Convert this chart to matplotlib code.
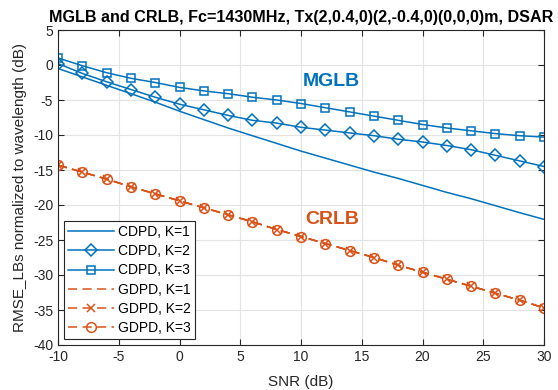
import matplotlib
matplotlib.use("Agg")
import matplotlib.pyplot as plt

plt.rcParams["font.family"] = ["Liberation Sans", "DejaVu Sans"]
plt.rcParams["axes.unicode_minus"] = False

# ── data ────────────────────────────────────────────────────────────────────
snr = [-10, -8, -6, -4, -2, 0, 2, 4, 6, 8, 10, 12, 14, 16, 18, 20, 22, 24, 26, 28, 30]

cdpd_k1 = [-0.5, -1.7, -2.9, -4.1, -5.3, -6.6, -7.8, -9.0, -10.1, -11.2, -12.3,
           -13.3, -14.3, -15.3, -16.2, -17.2, -18.2, -19.1, -20.1, -21.1, -22.05]
cdpd_k2 = [0.2, -1.2, -2.4, -3.5, -4.6, -5.6, -6.4, -7.2, -7.9, -8.3, -8.9,
           -9.3, -9.7, -10.1, -10.6, -11.0, -11.5, -12.1, -12.9, -13.7, -14.5]
cdpd_k3 = [1.0, -0.1, -1.1, -1.9, -2.5, -3.2, -3.7, -4.1, -4.6, -5.0, -5.5,
           -6.1, -6.7, -7.3, -7.9, -8.5, -9.0, -9.4, -9.8, -10.1, -10.3]

gdpd_k1 = [-14.3, -15.3, -16.3, -17.4, -18.4, -19.4, -20.4, -21.4, -22.4, -23.5, -24.5,
           -25.5, -26.5, -27.5, -28.6, -29.6, -30.6, -31.6, -32.6, -33.6, -34.7]
gdpd_k2 = gdpd_k1
gdpd_k3 = gdpd_k1

BLUE = "#0072BD"
ORANGE = "#D95319"

fig = plt.figure(figsize=(5.58, 3.9), dpi=100)
ax = fig.add_axes([58 / 558, 1 - 345 / 390, (544 - 58) / 558, (345 - 30) / 390])

lw = 1.1
dash = (6, 3.5)
ax.plot(snr, cdpd_k1, color=BLUE, lw=lw, label="CDPD, K=1")
ax.plot(snr, cdpd_k2, color=BLUE, lw=lw, marker="D", ms=6.5, mfc="none",
        mew=1.1, label="CDPD, K=2")
ax.plot(snr, cdpd_k3, color=BLUE, lw=lw, marker="s", ms=6, mfc="none",
        mew=1.1, label="CDPD, K=3")
ax.plot(snr, gdpd_k1, color=ORANGE, lw=lw, dashes=dash, label="GDPD, K=1")
ax.plot(snr, gdpd_k2, color=ORANGE, lw=lw, dashes=dash, marker="x", ms=6,
        mew=1.1, label="GDPD, K=2")
ax.plot(snr, gdpd_k3, color=ORANGE, lw=lw, dashes=dash, marker="o", ms=7,
        mfc="none", mew=1.1, label="GDPD, K=3")

ax.text(12.5, -2.3, "MGLB", color=BLUE, fontsize=14, fontweight="bold",
        ha="center", va="center")
ax.text(12.6, -22.1, "CRLB", color=ORANGE, fontsize=14, fontweight="bold",
        ha="center", va="center")

ax.set_xlim(-10, 30)
ax.set_ylim(-40, 5)
ax.set_xticks(range(-10, 31, 5))
ax.set_yticks(range(-40, 6, 5))
ax.grid(True, color="#e3e3e3", lw=0.8)
ax.set_axisbelow(True)
ax.tick_params(direction="in", top=True, right=True, labelsize=10,
               colors="#262626", length=4)
for sp in ax.spines.values():
    sp.set_color("#262626")
    sp.set_linewidth(0.8)

ax.set_xlabel("SNR (dB)", fontsize=11, color="#262626", labelpad=8)
ax.set_ylabel("RMSE_LBs normalized to wavelength (dB)", fontsize=11,
              color="#262626", labelpad=4)
ax.set_title("MGLB and CRLB, Fc=1430MHz, Tx(2,0.4,0)(2,-0.4,0)(0,0,0)m, DSAR",
             fontsize=11.6, fontweight="bold", pad=6)

leg = ax.legend(loc="lower left", fontsize=10, handlelength=3.3,
                fancybox=False, framealpha=1, edgecolor="#262626",
                borderaxespad=0.4, labelspacing=0.38, handletextpad=0.3,
                borderpad=0.3)
leg.get_frame().set_linewidth(0.8)

fig.savefig("out.png", dpi=100)
